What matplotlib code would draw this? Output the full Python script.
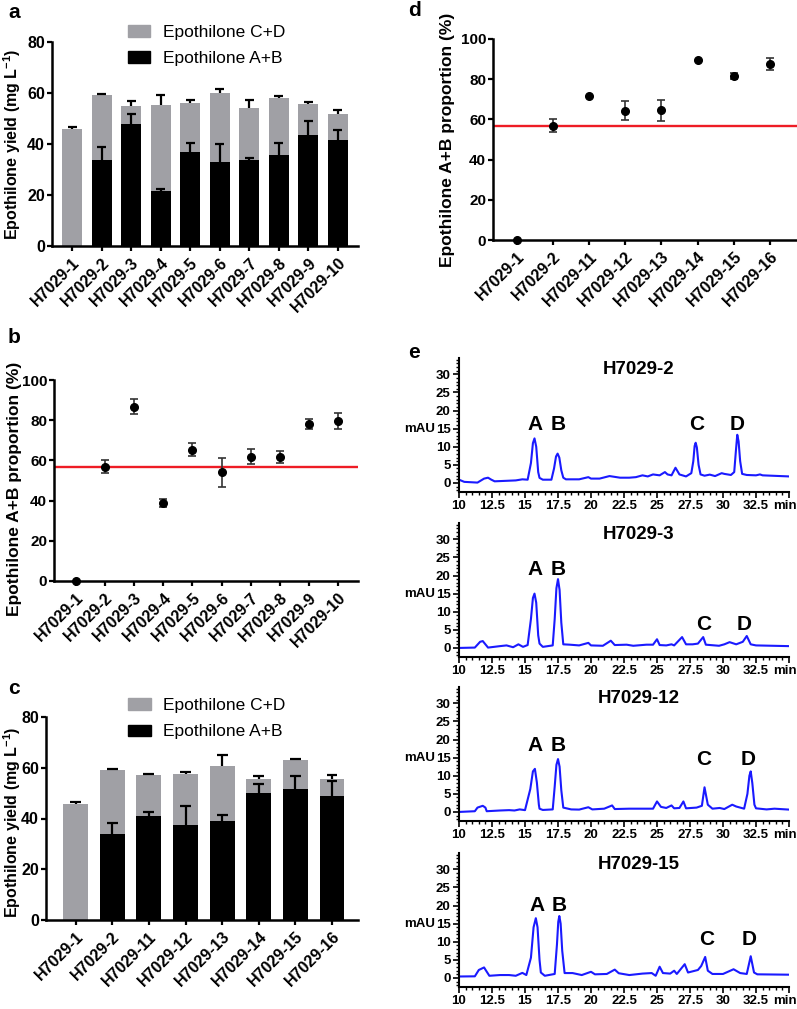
import numpy as np
import matplotlib
matplotlib.use('Agg')
import matplotlib.pyplot as plt
import matplotlib.transforms as mtrans
from matplotlib.patches import Patch
from matplotlib.ticker import MultipleLocator

plt.rcParams['font.family'] = ['Liberation Sans', 'DejaVu Sans']
plt.rcParams['font.weight'] = 'bold'
plt.rcParams['axes.labelweight'] = 'bold'
plt.rcParams['mathtext.fontset'] = 'custom'
plt.rcParams['mathtext.rm'] = 'Liberation Sans:bold'
plt.rcParams['mathtext.bf'] = 'Liberation Sans:bold'

# ---- data ----
strains_a = ['H7029-1', 'H7029-2', 'H7029-3', 'H7029-4', 'H7029-5',
             'H7029-6', 'H7029-7', 'H7029-8', 'H7029-9', 'H7029-10']
total_a = [46.0, 59.3, 54.8, 55.4, 56.1, 60.1, 54.1, 58.0, 55.8, 51.6]
total_sd_a = [0.7, 0.4, 1.9, 3.7, 1.3, 1.6, 3.0, 0.7, 0.8, 1.9]
ab_a = [0, 33.9, 47.7, 21.4, 36.9, 32.9, 33.6, 35.6, 43.7, 41.4]
ab_sd_a = [0, 4.9, 4.2, 0.8, 3.6, 7.0, 1.0, 4.9, 5.3, 4.0]

prop_b = [0, 56.8, 86.7, 38.9, 65.4, 54.0, 61.8, 61.5, 77.9, 79.7]
prop_sd_b = [0, 3.2, 3.7, 1.9, 3.2, 7.1, 3.7, 3.0, 2.5, 4.0]

strains_c = ['H7029-1', 'H7029-2', 'H7029-11', 'H7029-12', 'H7029-13',
             'H7029-14', 'H7029-15', 'H7029-16']
total_c = [45.6, 59.3, 57.0, 57.7, 60.6, 55.7, 63.0, 55.5]
total_sd_c = [1.0, 0.4, 0.7, 0.8, 4.3, 1.0, 0.3, 1.5]
ab_c = [0, 33.7, 40.9, 37.4, 39.0, 50.1, 51.5, 48.8]
ab_sd_c = [0, 4.6, 1.6, 7.7, 2.3, 3.4, 5.2, 6.0]

prop_d = [0, 56.8, 71.4, 64.3, 64.5, 89.7, 81.7, 87.5]
prop_sd_d = [0, 3.3, 0, 4.7, 5.4, 0, 1.4, 3.0]

ref_prop = 56.5  # H7029-2 reference line

# HPLC traces (retention time in min, absorbance in mAU)
trace_2 = [(10, 0.9), (10.4, 0.3), (11.4, 0.1), (11.9, 1.2), (12.2, 1.45), (12.45, 0.9),
           (12.7, 0.45), (14.3, 0.7), (14.8, 1.0), (15.2, 0.9), (15.45, 5.5), (15.6, 11.0),
           (15.72, 12.3), (15.85, 10.0), (16.0, 3.0), (16.1, 1.4), (16.35, 0.9), (17.0, 0.9),
           (17.2, 4.0), (17.35, 7.3), (17.47, 8.1), (17.6, 7.0), (17.75, 3.5), (17.9, 1.45),
           (18.1, 1.0), (19.1, 1.0), (19.8, 1.6), (20.0, 1.2), (20.65, 1.2), (21.4, 1.9),
           (22.2, 1.45), (22.9, 1.45), (23.4, 1.6), (23.9, 2.1), (24.3, 1.8), (24.7, 2.35),
           (25.2, 2.1), (25.6, 3.0), (25.8, 2.35), (26.1, 2.1), (26.4, 4.2), (26.7, 2.35),
           (27.2, 1.8), (27.6, 2.7), (27.75, 6.0), (27.85, 10.2), (27.93, 11.1), (28.02, 9.8),
           (28.15, 5.0), (28.3, 2.35), (28.6, 2.0), (29.0, 2.3), (29.4, 1.9), (29.9, 2.7),
           (30.1, 2.5), (30.6, 2.2), (30.85, 3.0), (30.98, 9.0), (31.08, 13.3), (31.18, 11.5),
           (31.3, 6.0), (31.45, 2.5), (31.8, 2.2), (32.5, 2.1), (32.8, 2.35), (33.0, 2.1),
           (35, 1.8)]
trace_3 = [(10, 0), (11.2, 0.1), (11.6, 1.7), (11.8, 1.9), (12.0, 1.0), (12.2, 0.1),
           (13.1, 0.5), (13.6, 0.7), (14.1, 0.2), (14.5, 1.0), (14.85, 0.3), (15.2, 0.8),
           (15.45, 8.0), (15.6, 13.8), (15.72, 15.0), (15.85, 12.5), (16.0, 3.5), (16.1, 1.2),
           (16.35, 0.3), (17.1, 0.7), (17.25, 8.0), (17.38, 16.5), (17.5, 19.0), (17.62, 16.0),
           (17.75, 7.0), (17.9, 1.0), (18.4, 0.9), (19.1, 0.7), (19.8, 1.4), (20.0, 0.7),
           (20.9, 0.6), (21.5, 2.0), (21.8, 0.8), (22.7, 0.9), (23.2, 0.6), (24.2, 0.9),
           (24.7, 0.9), (25.0, 2.4), (25.2, 0.8), (25.7, 0.7), (26.1, 1.0), (26.3, 0.7),
           (26.9, 3.0), (27.2, 1.0), (27.7, 1.0), (28.1, 1.2), (28.5, 3.0), (28.7, 0.9),
           (29.7, 0.6), (30.1, 1.0), (30.5, 1.6), (31.0, 1.0), (31.5, 1.7), (31.8, 3.3),
           (32.1, 1.0), (32.5, 0.7), (35, 0.5)]
trace_12 = [(10, 0), (11.2, 0.2), (11.4, 1.2), (11.8, 1.7), (12.0, 1.2), (12.1, 0.2),
            (13.1, 0.4), (13.8, 0.5), (14.2, 0.4), (14.6, 0.7), (15.0, 0.5), (15.4, 6.3),
            (15.6, 11.2), (15.75, 11.9), (15.9, 8.1), (16.05, 2.0), (16.1, 0.9), (16.35, 0.55),
            (17.1, 0.7), (17.25, 7.0), (17.38, 13.0), (17.5, 14.6), (17.62, 12.5), (17.75, 6.0),
            (17.9, 1.2), (18.5, 0.7), (19.1, 0.65), (19.8, 1.3), (20.1, 0.7), (21.0, 0.9),
            (21.6, 1.8), (21.8, 0.8), (22.9, 0.9), (23.9, 0.9), (24.7, 0.9), (25.0, 2.9),
            (25.3, 1.4), (25.7, 1.1), (26.1, 1.8), (26.3, 1.0), (26.7, 1.1), (27.0, 2.9),
            (27.2, 1.0), (28.0, 1.2), (28.4, 1.7), (28.6, 6.8), (28.85, 2.0), (29.2, 0.9),
            (29.75, 1.1), (30.1, 0.8), (30.7, 2.0), (31.0, 1.5), (31.6, 0.9), (31.85, 5.0),
            (32.0, 10.0), (32.1, 11.2), (32.22, 8.0), (32.38, 2.0), (32.5, 1.0), (33.3, 0.7),
            (33.9, 0.9), (35, 0.65)]
trace_15 = [(10, 0.4), (11.2, 0.45), (11.5, 2.2), (11.9, 2.9), (12.0, 2.3), (12.3, 0.6),
            (13.1, 0.8), (13.8, 0.8), (14.3, 0.6), (14.8, 1.4), (15.1, 0.8), (15.45, 5.6),
            (15.65, 14.0), (15.82, 16.5), (15.95, 14.0), (16.1, 5.0), (16.2, 1.5), (16.5, 0.6),
            (17.25, 1.1), (17.42, 9.2), (17.52, 15.5), (17.6, 17.1), (17.7, 15.0), (17.82, 7.5),
            (18.0, 1.35), (18.6, 1.35), (19.3, 0.8), (20.0, 1.7), (20.3, 1.0), (21.2, 1.1),
            (21.8, 2.3), (22.1, 1.3), (22.9, 0.8), (23.9, 1.2), (24.6, 1.35), (24.9, 0.6),
            (25.2, 3.1), (25.45, 1.35), (26.0, 1.2), (26.3, 2.0), (26.5, 1.1), (27.1, 3.8),
            (27.35, 1.5), (28.1, 2.2), (28.35, 3.3), (28.65, 5.8), (28.85, 2.0), (29.2, 1.1),
            (30.0, 1.1), (30.8, 2.4), (31.3, 1.35), (31.8, 1.1), (32.1, 6.0), (32.35, 1.5),
            (32.6, 1.0), (35, 0.9)]
trace_names = ['H7029-2', 'H7029-3', 'H7029-12', 'H7029-15']
traces = [trace_2, trace_3, trace_12, trace_15]
rt_ticks = [10, 12.5, 15, 17.5, 20, 22.5, 25, 27.5, 30, 32.5, 35]
rt_labels = ['10', '12.5', '15', '17.5', '20', '22.5', '25', '27.5', '30', '32.5', 'min']

GRAY = '#a0a0a5'
RED = '#ee1c25'
BLUE = '#1a1aff'

W, H = 797, 1009
fig = plt.figure(figsize=(W / 100, H / 100), dpi=100)


def add_ax(l, t, r, b):
    return fig.add_axes([l / W, 1 - b / H, (r - l) / W, (b - t) / H])


def clean(ax, lw=1.8):
    ax.spines['top'].set_visible(False)
    ax.spines['right'].set_visible(False)
    ax.spines['left'].set_linewidth(lw)
    ax.spines['bottom'].set_linewidth(lw)


def up_bars(ax, x, y, sd, half):
    x = np.asarray(x, float)
    y = np.asarray(y, float)
    sd = np.asarray(sd, float)
    m = sd > 0
    ax.vlines(x[m], y[m], y[m] + sd[m], color='black', lw=1.6, zorder=3)
    ax.hlines(y[m] + sd[m], x[m] - half, x[m] + half, color='black', lw=1.6, zorder=3)


def common_axes(ax, names, xlim, lab_xy, ysize):
    clean(ax)
    ax.set_xlim(*xlim)
    ax.set_xticks(np.arange(len(names)))
    ax.set_xticklabels(names, rotation=45, ha='right', rotation_mode='anchor')
    ax.tick_params(axis='both', width=1.6, length=3.5)
    ax.tick_params(axis='y', labelsize=ysize, pad=1.5)
    ax.tick_params(axis='x', labelsize=11.5, pad=3)
    ax.yaxis.set_label_coords(*lab_xy)


def bar_panel(ax, names, total, total_sd, ab, ab_sd, xlim, lab_xy, leg_xy):
    x = np.arange(len(names))
    ab = np.array(ab)
    total = np.array(total)
    ax.bar(x, ab, width=0.68, color='black', zorder=2)
    ax.bar(x, total - ab, bottom=ab, width=0.68, color=GRAY, zorder=2)
    up_bars(ax, x, total, total_sd, 0.15)
    up_bars(ax, x, ab, ab_sd, 0.15)
    ax.set_ylim(0, 80)
    ax.set_yticks([0, 20, 40, 60, 80])
    ax.set_ylabel('Epothilone yield (mg L$^{-1}$)', fontsize=11.5)
    common_axes(ax, names, xlim, lab_xy, 11.5)
    handles = [Patch(color=GRAY, label='Epothilone C+D'),
               Patch(color='black', label='Epothilone A+B')]
    ax.legend(handles=handles, loc='upper left', bbox_to_anchor=leg_xy,
              frameon=False, handlelength=1.3, handleheight=0.65,
              labelspacing=0.65, handletextpad=0.7, borderpad=0, borderaxespad=0,
              prop={'weight': 'normal', 'size': 12.5})


def prop_panel(ax, names, prop, sd, xlim, lab_xy):
    x = np.arange(len(names))
    prop = np.array(prop)
    sd = np.array(sd)
    ax.axhline(ref_prop, color=RED, lw=1.7, zorder=1)
    m = sd > 0
    ax.errorbar(x[m], prop[m], yerr=sd[m], fmt='none', ecolor='#333333',
                elinewidth=1.2, capsize=3, capthick=1.2, zorder=2)
    ax.plot(x, prop, 'o', color='black', ms=5.5, zorder=3, clip_on=False)
    ax.set_ylim(0, 100)
    ax.set_yticks([0, 20, 40, 60, 80, 100])
    ax.set_ylabel('Epothilone A+B proportion (%)', fontsize=12.5)
    common_axes(ax, names, xlim, lab_xy, 11)


ax_a = add_ax(52, 42, 358, 246)
bar_panel(ax_a, strains_a, total_a, total_sd_a, ab_a, ab_sd_a, (-0.68, 9.68),
          (-0.095, 0.5), (0.248, 1.083))

ax_b = add_ax(54, 380, 358, 581)
prop_panel(ax_b, strains_a, prop_b, prop_sd_b, (-0.76, 9.69), (-0.104, 0.46))

ax_c = add_ax(46, 717, 358, 920)
bar_panel(ax_c, strains_c, total_c, total_sd_c, ab_c, ab_sd_c, (-0.81, 7.71),
          (-0.074, 0.48), (0.263, 1.093))

ax_d = add_ax(493, 39, 797, 240)
prop_panel(ax_d, strains_c, prop_d, prop_sd_d, (-0.66, 7.75), (-0.125, 0.5))

# chromatograms
boxes = [(358, 492), (523, 657), (687, 821), (853, 987)]
peak_pos = [[(15.75, 16), (17.5, 16), (28.0, 16), (31.1, 16)],
            [(15.75, 21.6), (17.5, 21.6), (28.5, 6.5), (31.6, 6.5)],
            [(15.75, 18.3), (17.5, 18.3), (28.5, 14.4), (31.9, 14.4)],
            [(15.9, 20), (17.6, 20), (28.8, 10.5), (32.0, 10.5)]]
for (top, bot), name, tr, pk in zip(boxes, trace_names, traces, peak_pos):
    ax = add_ax(459, top, 789, bot)
    rt = [p[0] for p in tr]
    au = [p[1] for p in tr]
    ax.plot(rt, au, color=BLUE, lw=1.5)
    clean(ax, 1.5)
    ax.set_xlim(10, 35)
    ax.set_ylim(-2.5, 34.5)
    ax.set_xticks(rt_ticks)
    ax.set_xticklabels(rt_labels)
    ax.set_yticks([0, 5, 10, 15, 20, 25, 30])
    ax.xaxis.set_minor_locator(MultipleLocator(0.5))
    ax.yaxis.set_minor_locator(MultipleLocator(1))
    ax.tick_params(which='major', width=1.2, length=4, labelsize=9.5, pad=2)
    ax.tick_params(which='minor', width=1.0, length=2.5)
    last = ax.get_xticklabels()[-1]
    last.set_transform(last.get_transform() + mtrans.ScaledTranslation(-4 / 100, 0, fig.dpi_scale_trans))
    tr_ = mtrans.blended_transform_factory(ax.transAxes, ax.transData)
    ax.text(0.545, 31.3, name, transform=tr_, ha='center', va='center', fontsize=13.5)
    ax.text(-0.072, 15, 'mAU', transform=tr_, ha='right', va='center', fontsize=9.5)
    for (px, py), lab in zip(pk, 'ABCD'):
        ax.text(px, py, lab, ha='center', va='center', fontsize=15)

# panel letters
for lab, x, y in [('a', 8, 12), ('b', 8, 338), ('c', 8, 688), ('d', 408, 10), ('e', 408, 352)]:
    fig.text(x / W, 1 - y / H, lab, fontsize=15, ha='left', va='center')

fig.savefig('out.png', dpi=100)
